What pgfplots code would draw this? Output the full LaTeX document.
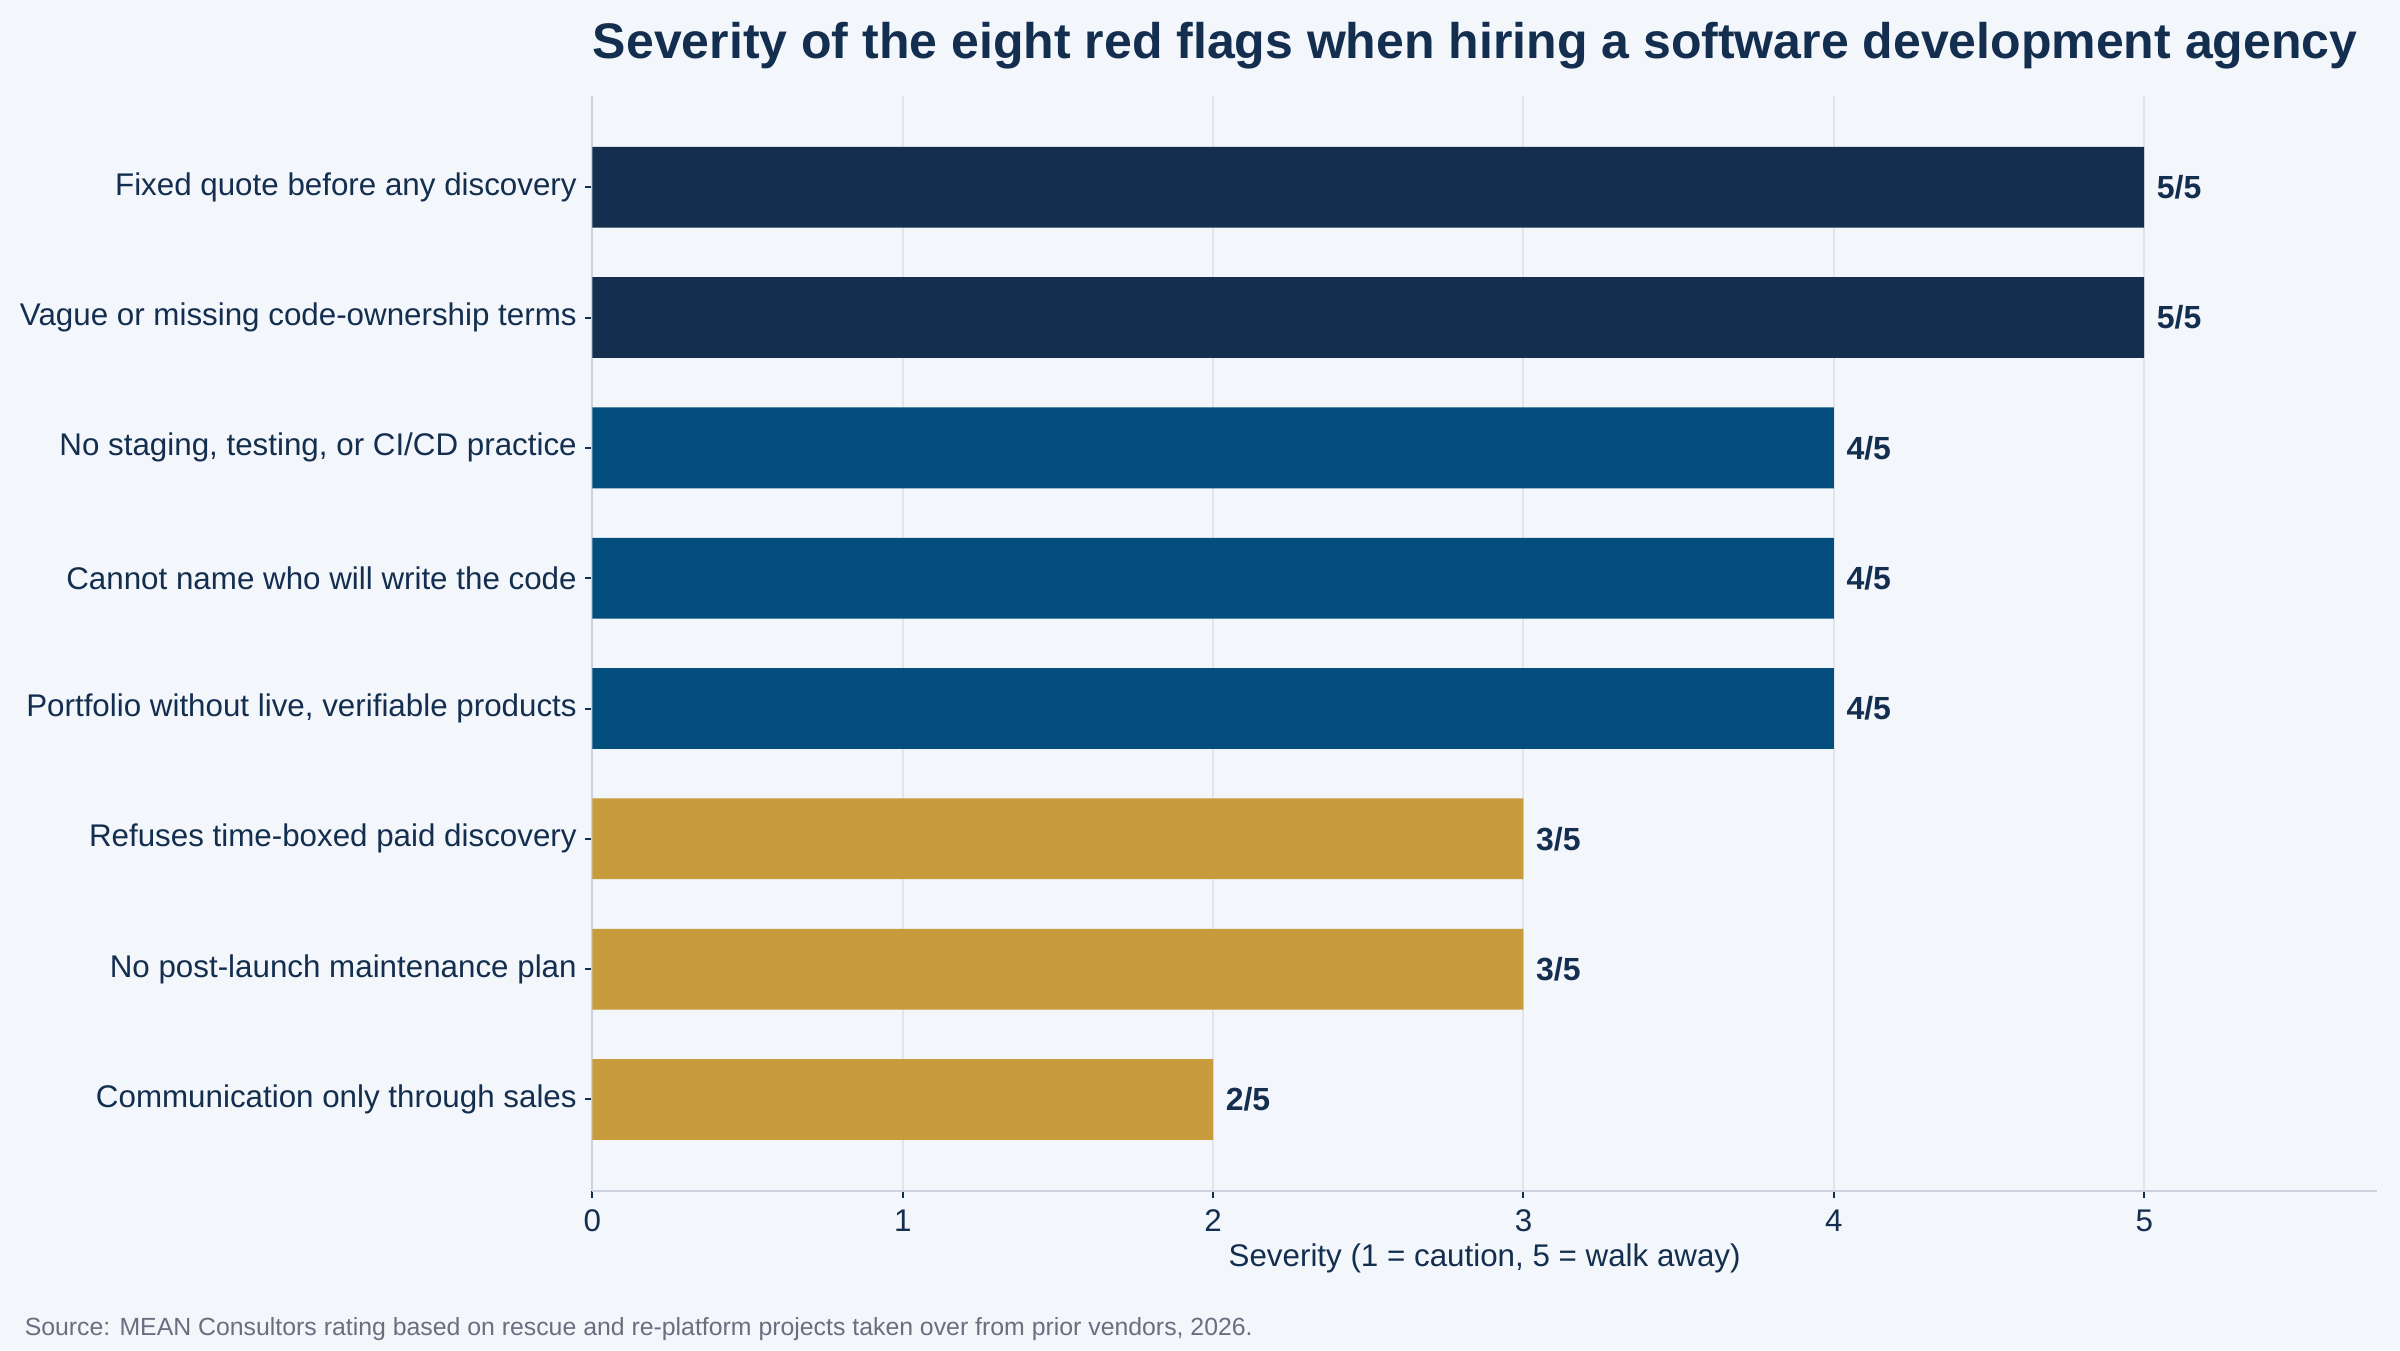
\documentclass[border=0pt]{standalone}
\usepackage{fontspec}
\setmainfont{Liberation Sans}
\usepackage{pgfplots}
\pgfplotsset{compat=1.18}
\definecolor{bgc}{HTML}{F3F6FA}
\definecolor{navy}{HTML}{132E4F}
\definecolor{midblue}{HTML}{034E7D}
\definecolor{gold}{HTML}{C89B3C}
\definecolor{gridc}{HTML}{E1E5EB}
\definecolor{axisc}{HTML}{CDD3DE}
\definecolor{srcc}{HTML}{6B6E80}
\begin{document}
\begin{tikzpicture}
\fill[bgc] (0,0) rectangle (720pt,405pt);
\useasboundingbox (0,0) rectangle (720pt,405pt);
\begin{axis}[
  at={(177.7pt,47.8pt)}, anchor=south west,
  scale only axis, width=535.4pt, height=328.4pt,
  /pgf/number format/assume math mode=true,
  xbar, bar width=0.62, bar shift=0pt,
  xmin=0, xmax=5.75, ymin=0.3, ymax=8.7, y dir=reverse,
  xtick={0,1,2,3,4,5}, ytick={1,2,3,4,5,6,7,8},
  yticklabels={Fixed quote before any discovery,
    Vague or missing code-ownership terms,
    {No staging, testing, or CI/CD practice},
    Cannot name who will write the code,
    {Portfolio without live, verifiable products},
    Refuses time-boxed paid discovery,
    No post-launch maintenance plan,
    Communication only through sales},
  axis lines*=left,
  axis line style={axisc, line width=0.6pt},
  xmajorgrids, grid style={gridc, line width=0.6pt},
  tick style={navy, line width=0.6pt},
  major tick length=2.1pt, tick align=outside,
  ticklabel style={font=\fontsize{9.4}{11}\selectfont, text=navy},
  yticklabel style={inner xsep=2.4pt},
  xlabel={Severity (1 = caution, 5 = walk away)},
  xlabel style={at={(axis description cs:0.5,0)}, anchor=base, yshift=-22.6pt,
    font=\fontsize{9.4}{11}\selectfont, text=navy},
  title={Severity of the eight red flags when hiring a software development agency},
  title style={at={(axis description cs:0,1)}, anchor=base west, yshift=5.4pt,
    inner xsep=0pt, font=\bfseries\fontsize{15}{18}\selectfont, text=navy},
  point meta=x,
  nodes near coords={\pgfmathprintnumber{\pgfplotspointmeta}/5},
  nodes near coords align={horizontal},
  every node near coord/.append style={font=\bfseries\fontsize{9.6}{12}\selectfont,
    text=navy, anchor=west, inner sep=0pt, xshift=3.6pt},
]
\addplot[fill=navy, draw=none] coordinates {(5,1) (5,2)};
\addplot[fill=midblue, draw=none] coordinates {(4,3) (4,4) (4,5)};
\addplot[fill=gold, draw=none] coordinates {(3,6) (3,7) (2,8)};
\end{axis}
\node[anchor=base west, font=\fontsize{7.45}{9}\selectfont, text=srcc] at (3.9pt,4.5pt)
  {Source: MEAN Consultors rating based on rescue and re-platform projects taken over from prior vendors, 2026.};
\end{tikzpicture}
\end{document}
